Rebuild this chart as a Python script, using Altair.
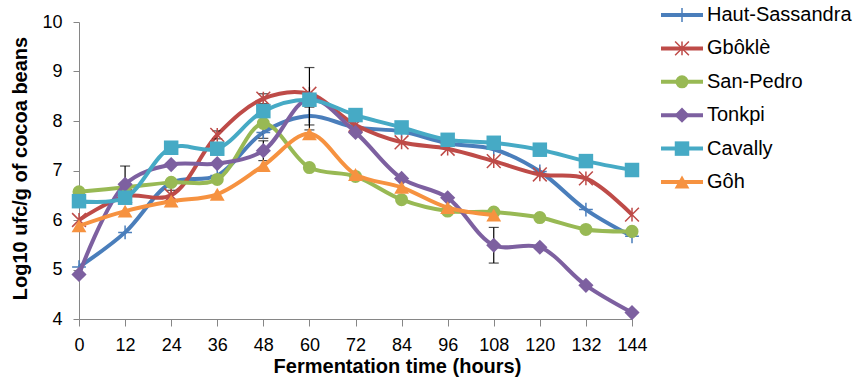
import altair as alt
import pandas as pd

hours = [0, 12, 24, 36, 48, 60, 72, 84, 96, 108, 120, 132, 144]
series = ["Haut-Sassandra", "Gbôklè", "San-Pedro", "Tonkpi", "Cavally", "Gôh"]

haut_sassandra = [5.05, 5.75, 6.75, 6.90, 7.77, 8.10, 7.87, 7.79, 7.55, 7.43, 6.98, 6.21, 5.67]
gbokle = [6.00, 6.48, 6.50, 7.72, 8.45, 8.55, 7.92, 7.57, 7.44, 7.19, 6.92, 6.84, 6.11]
san_pedro = [6.57, 6.66, 6.76, 6.82, 7.95, 7.06, 6.88, 6.41, 6.18, 6.16, 6.05, 5.81, 5.77]
tonkpi = [4.90, 6.72, 7.12, 7.14, 7.40, 8.45, 7.77, 6.84, 6.45, 5.49, 5.45, 4.68, 4.13]
cavally = [6.38, 6.45, 7.46, 7.44, 8.20, 8.43, 8.12, 7.87, 7.62, 7.56, 7.42, 7.19, 7.01]
goh = [5.88, 6.18, 6.38, 6.52, 7.10, 7.74, 6.92, 6.66, 6.25, 6.10, None, None, None]

# error bars (series, hour, +/- size)
err_series = ["Tonkpi", "Tonkpi", "Tonkpi", "Tonkpi", "Haut-Sassandra", "Haut-Sassandra", "Gbôklè", "Gbôklè", "Gbôklè"]
err_hours = [12, 48, 60, 108, 48, 60, 24, 36, 48]
err_size = [0.37, 0.20, 0.63, 0.36, 0.12, 0.18, 0.10, 0.08, 0.10]

colors = ["#4A7EBB", "#BE4B48", "#98B954", "#7D60A0", "#46AAC5", "#F69240"]

PLUS = "M-1,0L1,0M0,-1L0,1"
STAR = "M-1,-1L1,1M-1,1L1,-1M0,-1L0,1"
marker = {
    "Haut-Sassandra": dict(shape=PLUS, filled=False, size=190, strokeWidth=1.5),
    "Gbôklè": dict(shape=STAR, filled=False, size=190, strokeWidth=1.5),
    "San-Pedro": dict(shape="circle", filled=True, size=170),
    "Tonkpi": dict(shape="diamond", filled=True, size=230),
    "Cavally": dict(shape="square", filled=True, size=210),
    "Gôh": dict(shape="triangle-up", filled=True, size=220),
}

all_vals = [haut_sassandra, gbokle, san_pedro, tonkpi, cavally, goh]
rows = []
for s, vals in zip(series, all_vals):
    for h, v in zip(hours, vals):
        if v is not None:
            rows.append({"series": s, "hour": h, "value": v})
df = pd.DataFrame(rows)

lookup = {(r["series"], r["hour"]): r["value"] for r in rows}
err_df = pd.DataFrame({
    "series": err_series,
    "hour": err_hours,
    "lo": [lookup[(s, h)] - e for s, h, e in zip(err_series, err_hours, err_size)],
    "hi": [lookup[(s, h)] + e for s, h, e in zip(err_series, err_hours, err_size)],
})

FONT = "Liberation Sans"
x_scale = alt.Scale(domain=[0, 144], nice=False, zero=False)
y_scale = alt.Scale(domain=[4, 10], nice=False, zero=False)
color_scale = alt.Scale(domain=series, range=colors)

x_axis = alt.Axis(values=hours, labelFontSize=18, labelFont=FONT, labelColor="black",
                  tickSize=7, labelPadding=10, domainColor="#868686", tickColor="#868686",
                  grid=False, labelFlush=False, labelOverlap=False,
                  title="Fermentation time (hours)", titleFontSize=20, titleFont=FONT,
                  titleFontWeight="bold", titleColor="black", titleX=318, titleY=47,
                  titleBaseline="middle", titleAlign="center")
y_axis = alt.Axis(values=[4, 5, 6, 7, 8, 9, 10], format="d", labelFontSize=18, labelFont=FONT,
                  labelColor="black", tickSize=6, labelPadding=11, domainColor="#868686",
                  tickColor="#868686", grid=False, labelFlush=False, labelOverlap=False,
                  title="Log10 ufc/g of cocoa beans", titleFontSize=20, titleFont=FONT,
                  titleFontWeight="bold", titleColor="black", titleX=-59, titleY=146,
                  titleAngle=270, titleAlign="center", titleBaseline="middle")

TITLE_Y = "Log10 ufc/g of cocoa beans"
TITLE_X = "Fermentation time (hours)"


def X():
    return alt.X("hour:Q", scale=x_scale, axis=x_axis, title=TITLE_X)


def Y(field):
    return alt.Y(f"{field}:Q", scale=y_scale, axis=y_axis, title=TITLE_Y)


color = alt.Color("series:N", scale=color_scale, legend=None)

layers = []
for s in series:
    base = alt.Chart(df).transform_filter(alt.datum.series == s)
    layers.append(base.mark_line(interpolate="catmull-rom", strokeWidth=4).encode(
        x=X(), y=Y("value"), color=color))
    eb = alt.Chart(err_df).transform_filter(alt.datum.series == s)
    layers.append(eb.mark_rule(color="black", strokeWidth=1.2).encode(x=X(), y=Y("lo"), y2="hi:Q"))
    layers.append(eb.mark_tick(orient="horizontal", size=10, thickness=1.2, color="black").encode(x=X(), y=Y("lo")))
    layers.append(eb.mark_tick(orient="horizontal", size=10, thickness=1.2, color="black").encode(x=X(), y=Y("hi")))
    m = marker[s]
    if m["filled"]:
        pt = base.mark_point(shape=m["shape"], filled=True, size=m["size"], opacity=1)
    else:
        pt = base.mark_point(shape=m["shape"], filled=False, size=m["size"], strokeWidth=m["strokeWidth"], opacity=1)
    layers.append(pt.encode(x=X(), y=Y("value"), color=color))

main = alt.layer(*layers)

leg_df = pd.DataFrame({"series": series})
leg_y = alt.Y("series:N", scale=alt.Scale(type="point", domain=series, range=[-7, 160], padding=0),
              axis=None, sort=series)
leg_layers = [
    alt.Chart(leg_df).mark_rule(strokeWidth=4).encode(
        x=alt.value(582), x2=alt.value(624), y=leg_y, color=color)
]
for s in series:
    m = marker[s]
    lb = alt.Chart(leg_df).transform_filter(alt.datum.series == s)
    if m["filled"]:
        lp = lb.mark_point(shape=m["shape"], filled=True, size=m["size"], opacity=1)
    else:
        lp = lb.mark_point(shape=m["shape"], filled=False, size=m["size"], strokeWidth=m["strokeWidth"], opacity=1)
    leg_layers.append(lp.encode(x=alt.value(603), y=leg_y, color=color))
leg_layers.append(alt.Chart(leg_df).mark_text(align="left", baseline="middle", fontSize=20, font=FONT,
                                              color="black").encode(
    x=alt.value(628), y=leg_y, text="series:N"))
legend = alt.layer(*leg_layers)

chart = alt.layer(main, legend).resolve_scale(y="independent").properties(
    width=553, height=297,
    autosize=alt.AutoSizeParams(type="none"),
    padding={"left": 79, "top": 22, "right": 228, "bottom": 58},
    background="white",
).configure_view(stroke=None)

chart.save("out.html", embed_options={"renderer": "svg", "actions": False})
